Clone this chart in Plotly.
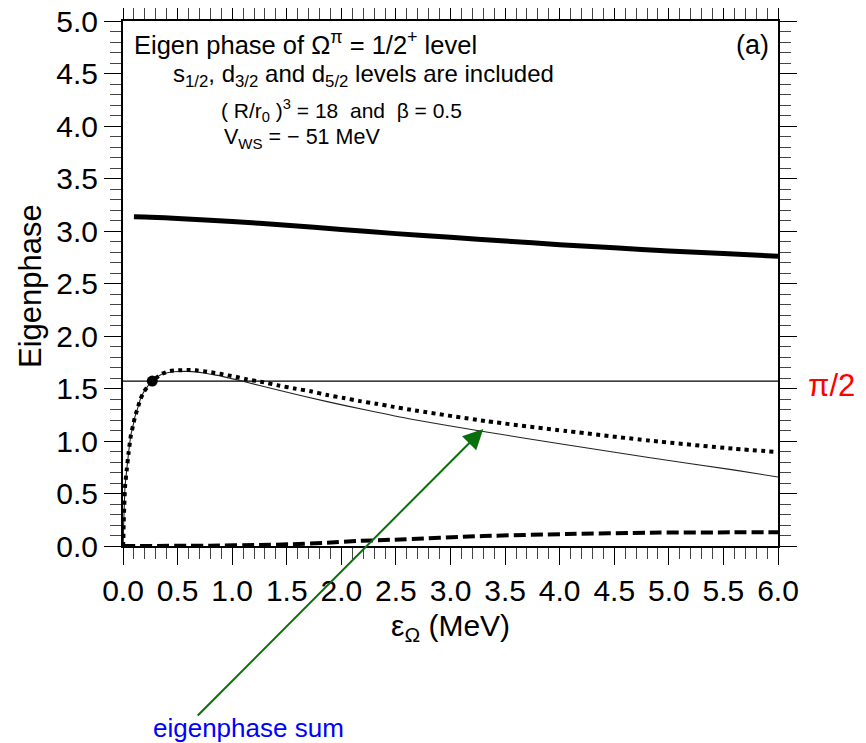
import plotly.graph_objects as go
import math

# ---- data ----
thick_x = [0.1, 0.25, 0.5, 1.0, 1.5, 2.0, 2.5, 3.0, 3.5, 4.0, 4.5, 5.0, 5.5, 6.0]
thick_y = [3.135, 3.132, 3.12, 3.09, 3.055, 3.015, 2.975, 2.94, 2.905, 2.87, 2.84, 2.81, 2.785, 2.76]

thin_x = [0.0, 0.003, 0.006, 0.012, 0.018, 0.034, 0.052, 0.073, 0.092, 0.11, 0.134, 0.159, 0.192,
          0.268, 0.354, 0.43, 0.51, 0.59, 0.67, 0.74, 0.81, 0.89, 0.97, 1.09, 1.4, 1.87, 2.25,
          2.63, 3.3, 4.06, 4.83, 5.59, 6.0]
thin_y = [0.0, 0.057, 0.216, 0.384, 0.556, 0.724, 0.895, 1.06, 1.146, 1.232, 1.311, 1.397, 1.47,
          1.571, 1.635, 1.655, 1.662, 1.663, 1.658, 1.648, 1.635, 1.62, 1.60, 1.571, 1.49, 1.375, 1.29,
          1.21, 1.09, 0.965, 0.84, 0.725, 0.657]

sum_x = [0.0, 0.003, 0.006, 0.012, 0.018, 0.034, 0.052, 0.073, 0.092, 0.11, 0.134, 0.159, 0.192,
         0.268, 0.354, 0.43, 0.507, 0.59, 0.67, 0.74, 0.81, 0.89, 0.965, 1.04, 1.12, 1.26, 1.42,
         1.57, 1.72, 1.87, 2.02, 2.17, 2.32, 2.48, 2.62, 3.32, 4.06, 4.83, 5.59, 6.0]
sum_y = [0.0, 0.057, 0.216, 0.384, 0.556, 0.724, 0.895, 1.06, 1.146, 1.232, 1.311, 1.397, 1.47,
         1.571, 1.638, 1.667, 1.673, 1.676, 1.673, 1.664, 1.654, 1.641, 1.625, 1.61, 1.59, 1.565, 1.53,
         1.50, 1.473, 1.438, 1.41, 1.38, 1.355, 1.325, 1.30, 1.19, 1.095, 1.003, 0.927, 0.895]

dash_x = [0.0, 0.8, 1.25, 1.53, 1.87, 2.14, 2.48, 3.3, 4.06, 4.83, 5.59, 6.0]
dash_y = [0.0, 0.003, 0.01, 0.016, 0.03, 0.048, 0.06, 0.095, 0.114, 0.127, 0.13, 0.13]

half_pi_x = [0.0, 6.0]
half_pi_y = [math.pi / 2, math.pi / 2]

res_x = [0.268]
res_y = [math.pi / 2]

arrow_tip = (3.30, 1.114)

x_ticks = [i * 0.5 for i in range(13)]
y_ticks = [i * 0.5 for i in range(11)]

FONT = "Liberation Sans, Arial, Helvetica, sans-serif"

fig = go.Figure()
fig.add_trace(go.Scatter(x=half_pi_x, y=half_pi_y, mode="lines",
                         line=dict(color="black", width=1.3), hoverinfo="skip"))
fig.add_trace(go.Scatter(x=thin_x, y=thin_y, mode="lines",
                         line=dict(color="#222", width=1.1, shape="spline", smoothing=0.6)))
fig.add_trace(go.Scatter(x=sum_x, y=sum_y, mode="lines",
                         line=dict(color="black", width=4, dash="4px,4.3px", shape="spline", smoothing=0.6)))
fig.add_trace(go.Scatter(x=dash_x, y=dash_y, mode="lines",
                         line=dict(color="black", width=4, dash="12px,5px", shape="spline", smoothing=0.6)))
fig.add_trace(go.Scatter(x=thick_x, y=thick_y, mode="lines",
                         line=dict(color="black", width=5, shape="spline", smoothing=0.6)))
fig.add_trace(go.Scatter(x=res_x, y=res_y, mode="markers",
                         marker=dict(color="black", size=11)))

axis_common = dict(
    showgrid=False, zeroline=False, showline=True, linewidth=2, linecolor="black",
    mirror="ticks", ticks="outside", ticklen=17, tickwidth=1, tickcolor="black",
    tickfont=dict(family=FONT, size=30, color="black"), tickformat=".1f",
    minor=dict(ticks="outside", ticklen=11, tickwidth=1, tickcolor="#444", dtick=0.1),
    automargin=False, ticklabeloverflow="allow",
)

fig.update_xaxes(range=[0, 6], tickmode="array", tickvals=x_ticks, **axis_common)
fig.update_yaxes(range=[0, 5], tickmode="array", tickvals=y_ticks, **axis_common)

# page coordinates of the plot area (page adds an 8px body margin)
def px2paper(px, py):
    return (px - 123) / 655.0, (546 - py) / 525.0

annots = []
def add_text(text, px, py, size, color="black", xanchor="left", angle=0):
    x, y = px2paper(px, py)
    annots.append(dict(text=text, x=x, y=y, xref="paper", yref="paper", xanchor=xanchor,
                       yanchor="middle", showarrow=False, textangle=angle,
                       font=dict(family=FONT, size=size, color=color)))

add_text("Eigen phase of Ω<sup>π</sup> = 1/2<sup>+</sup> level", 132, 43, 25.5)
add_text("s<sub>1/2</sub>, d<sub>3/2</sub> and d<sub>5/2</sub> levels are included", 171, 76, 24)
add_text("( R/r<sub>0</sub> )<sup>3</sup> = 18  and  β = 0.5", 219, 111, 21)
add_text("V<sub>WS</sub> = − 51 MeV", 222, 139, 21.5)
add_text("(a)", 752, 45, 27, xanchor="center")
add_text("π/2", 806, 385, 31, color="red")
add_text("eigenphase sum", 151, 728, 26, color="blue")
add_text("ε<sub>Ω</sub> (MeV)", 450, 627, 30, xanchor="center")
add_text("Eigenphase", 30, 286, 31, xanchor="center", angle=-90)

# arrow
annots.append(dict(x=arrow_tip[0], y=arrow_tip[1], xref="x", yref="y", text="",
                   showarrow=True, arrowhead=2, arrowsize=2, arrowwidth=2,
                   arrowcolor="#0a6e0a", ax=-287, ay=288, axref="pixel", ayref="pixel",
                   standoff=0))

fig.update_layout(
    width=858, height=735, showlegend=False,
    margin=dict(l=115, r=88, t=13, b=197, autoexpand=False),
    paper_bgcolor="white", plot_bgcolor="white",
    annotations=annots,
)

fig.write_html("out.html")
